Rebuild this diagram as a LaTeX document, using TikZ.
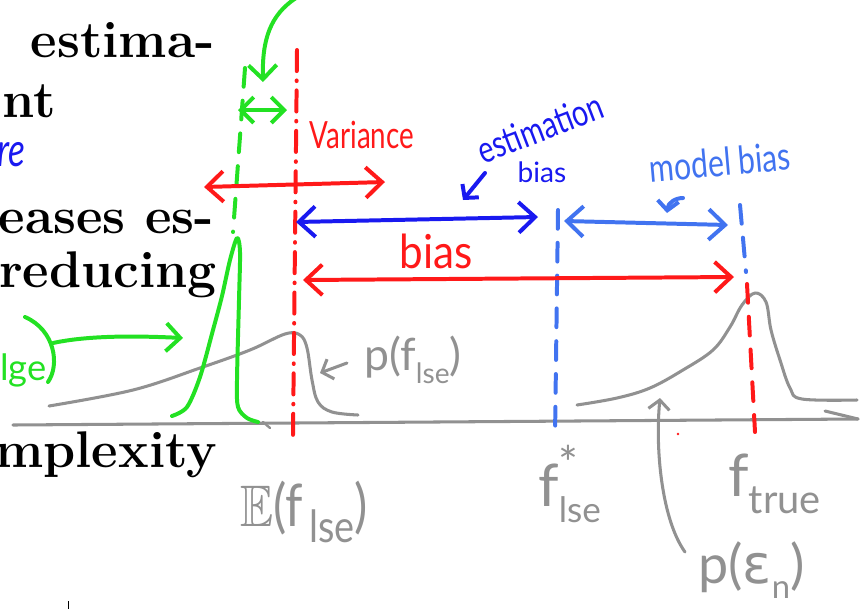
\documentclass[tikz,border=0pt]{standalone}
\usepackage{fontspec}
\usepackage{amssymb}
\usetikzlibrary{arrows.meta}
\newfontfamily\hand{Lato}
\newfontfamily\greek{DejaVu Sans}
\definecolor{penred}{RGB}{255,25,25}
\definecolor{pengreen}{RGB}{35,225,35}
\definecolor{penblue}{RGB}{25,25,240}
\definecolor{penlightblue}{RGB}{65,115,240}
\definecolor{pengray}{RGB}{145,145,145}
\newcommand{\pensize}[1]{\hand\fontsize{#1}{#1}\selectfont}
\newcommand{\squeeze}[2]{\scalebox{#1}[1]{#2}}
\newcommand{\penlow}[2]{\raisebox{-0.28em}{\fontsize{#1}{#1}\selectfont #2}}

\begin{document}
\begin{tikzpicture}[x=0.03cm, y=-0.03cm,
    pen/.style={line width=3.4pt, line cap=round, line join=round},
    graypen/.style={pen, line width=2.6pt, pengray},
    twoheads/.style={{Straight Barb[length=14pt,width=26pt]}-{Straight Barb[length=14pt,width=26pt]}},
    onehead/.style={-{Straight Barb[length=12pt,width=24pt]}},
    smallhead/.style={-{Straight Barb[length=8pt,width=18pt]}},
    reddash/.style={pen, penred, dash pattern=on 18pt off 8pt on 0.5pt off 8pt},
    longdash/.style={pen, dash pattern=on 16pt off 12pt},
    handtext/.style={inner sep=0pt},
    slide/.style={inner sep=0pt, font=\fontsize{44}{50}\selectfont\bfseries, anchor=base east}
]
\useasboundingbox (0,0) rectangle (867,608);
\clip (0,0) rectangle (867,608);

% slide text behind the sketch
\node[slide] (line1) at (215,57) {estima-};
\node[slide] (line2) at (56,117) {nt};
\node[slide] (line3) at (214,233) {eases es-};
\node[slide] (line4) at (217,287) {reducing};
\node[slide] (line5) at (217,467) {mplexity};
\node[handtext, penblue, font=\pensize{40}\itshape, anchor=base west] (more) at (-3,166) {\squeeze{0.75}{re}};

% axis
\coordinate (axL) at (13,425);
\coordinate (axR) at (858,419);
\coordinate (axbarb) at (825,411);
\draw[graypen] (axL) -- (axR);
\draw[graypen] (axbarb) -- (axR);

% distributions
\draw[graypen] plot[smooth, tension=0.6] coordinates {(49,406) (133,390) (200,368) (250,350) (285,334) (300,335) (307,348) (312,380) (318,402) (332,412) (358,415)};
\draw[pen, pengreen] plot[smooth, tension=0.5] coordinates {(172,416) (187,407) (200,377) (213,330) (222,296) (230,260) (237,238) (240,252) (239,300) (237,380) (238,407) (247,418) (258,422)};
\draw[graypen] plot[smooth, tension=0.6] coordinates {(577,405) (617,398) (650,388) (683,370) (713,350) (730,327) (742,305) (755,293) (766,302) (771,330) (780,360) (790,388) (802,399) (857,400)};
\draw[graypen, line width=2pt] (263,422) -- (270,428);

% vertical markers
\coordinate (greentop) at (245,68);
\coordinate (greenbot) at (233,232);
\coordinate (redtop) at (297,50);
\coordinate (redbot) at (293,435);
\coordinate (bluetop) at (558,210);
\coordinate (bluebot) at (555,437);
\coordinate (modeltop) at (740,205);
\coordinate (modelbot) at (746,272);
\coordinate (truetop) at (747,284);
\coordinate (truebot) at (755,432);
\draw[longdash, pengreen] (greentop) -- (greenbot);
\draw[reddash] (redtop) -- (redbot);
\draw[longdash, penlightblue] (bluetop) -- (bluebot);
\draw[longdash, penlightblue] (modeltop) -- (modelbot);
\draw[longdash, penred] (truetop) -- (truebot);

% spreads
\coordinate (sprL) at (238,110);
\coordinate (sprR) at (287,110);
\coordinate (varL) at (204,187);
\coordinate (varR) at (385,182);
\coordinate (estL) at (296,222);
\coordinate (estR) at (538,217);
\coordinate (biasL) at (303,280);
\coordinate (biasR) at (734,277);
\coordinate (modL) at (564,221);
\coordinate (modR) at (728,225);
\draw[pen, pengreen, {Straight Barb[length=11pt,width=22pt]}-{Straight Barb[length=11pt,width=22pt]}] (sprL) -- (sprR);
\draw[pen, penred, twoheads] (varL) -- (varR);
\draw[pen, penblue, twoheads] (estL) -- (estR);
\draw[pen, penred, twoheads] (biasL) -- (biasR);
\draw[pen, penlightblue, twoheads] (modL) -- (modR);

% labels
\node[handtext, penred, font=\pensize{32}] (variance) at (362,135) {\squeeze{0.74}{Variance}};
\node[handtext, penred, font=\pensize{40}] (bias) at (436,251) {\squeeze{0.9}{bias}};
\node[handtext, penblue, font=\pensize{32}, rotate=21] (estim) at (540,128) {\squeeze{0.76}{estimation}};
\node[handtext, penblue, font=\pensize{24}] (estbias) at (542,172) {bias};
\node[handtext, penlightblue, font=\pensize{33}, rotate=5] (modelbias) at (720,162) {\squeeze{0.78}{model bias}};
\node[handtext, pengreen, font=\pensize{31}, anchor=base west] (know) at (0,380) {lge};

\node[handtext, pengray, font=\pensize{38}, anchor=west] (pflse) at (364,360) {p(f\penlow{24}{lse})};
\node[handtext, pengray, font=\pensize{50}, anchor=west] (eflse) at (240,512) {\squeeze{0.85}{$\mathbb{E}$(f\penlow{38}{\,lse})}};
\node[handtext, pengray, font=\pensize{50}, anchor=west] (fstar) at (538,484) {f\rlap{\raisebox{0.45em}{\fontsize{40}{40}\selectfont *}}\penlow{30}{lse}};
\node[handtext, pengray, font=\pensize{50}, anchor=west] (ftrue) at (728,484) {f\penlow{34}{true}};
\node[handtext, pengray, font=\pensize{46}, anchor=west] (peps) at (698,570) {p({\greek ε}\penlow{28}{n})};

% pointers
\coordinate (topfrom) at (296,-2);
\coordinate (topto) at (263,82);
\draw[pen, pengreen, onehead] (topfrom) .. controls (270,15) and (262,40) .. (topto);
\draw[pen, pengreen] (25,317) .. controls (55,330) and (60,365) .. (48,382);
\coordinate (knowfrom) at (53,343);
\coordinate (knowto) at (183,338);
\draw[pen, pengreen, onehead] (knowfrom) .. controls (90,335) and (140,336) .. (knowto);
\coordinate (estfrom) at (485,173);
\coordinate (estto) at (463,200);
\draw[pen, penblue, smallhead] (estfrom) -- (estto);
\coordinate (modfrom) at (683,198);
\coordinate (modto) at (667,213);
\draw[pen, penlightblue, smallhead] (modfrom) .. controls (675,198) and (668,203) .. (modto);
\coordinate (pffrom) at (347,363);
\coordinate (pfto) at (320,373);
\draw[graypen, smallhead] (pffrom) -- (pfto);
\coordinate (epsfrom) at (685,552);
\coordinate (epsto) at (660,398);
\draw[graypen, smallhead] (epsfrom) .. controls (662,520) and (655,450) .. (epsto);

% stray marks
\fill[penred] (678,434) circle (1.3);
\draw[black, line width=0.6pt] (68,601) -- (68,609);
\end{tikzpicture}
\end{document}
